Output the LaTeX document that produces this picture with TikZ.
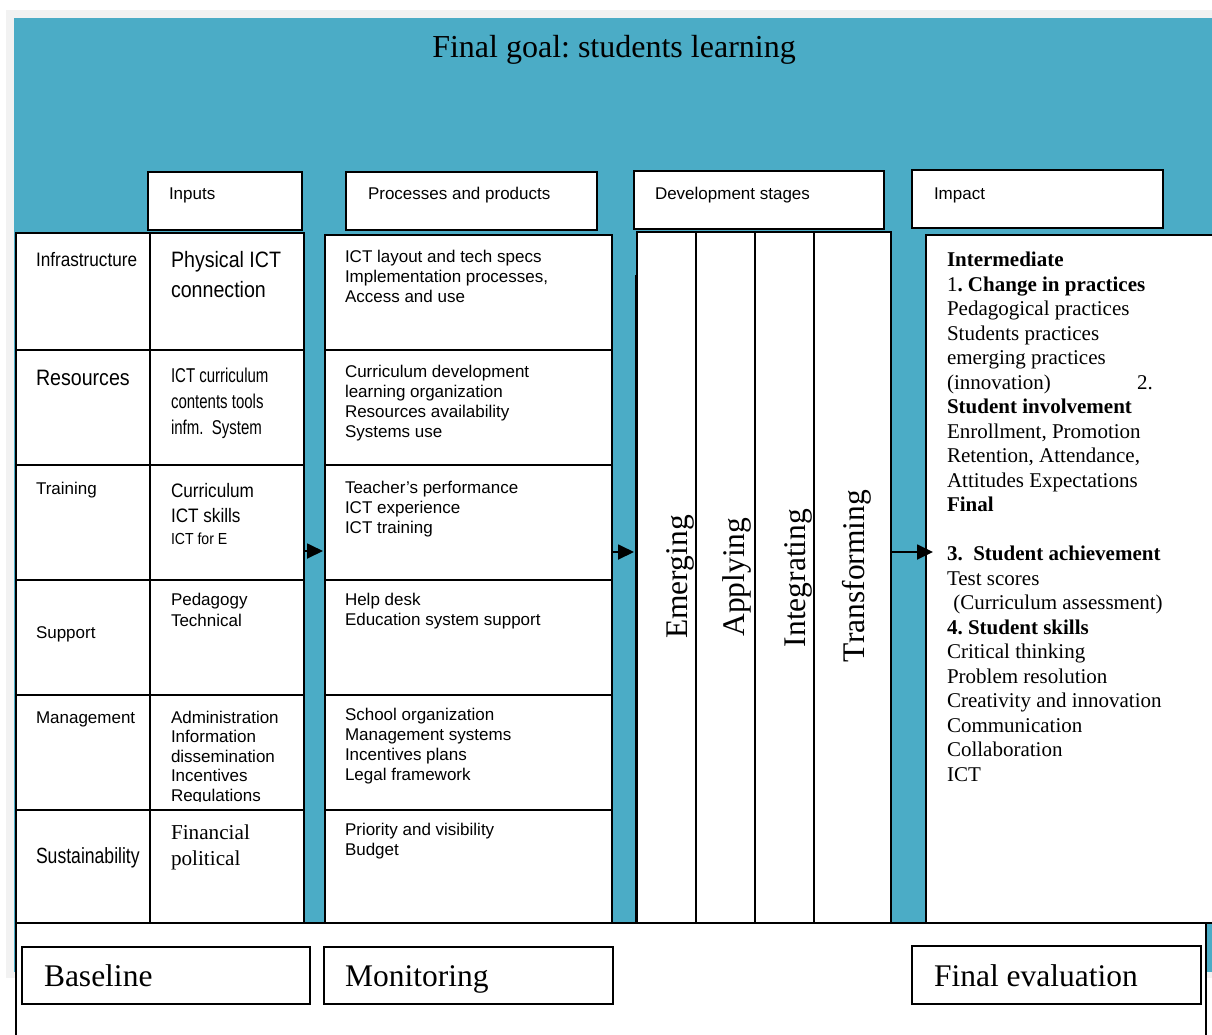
\documentclass[tikz,border=0pt]{standalone}
\usepackage{fontspec}
\setmainfont{Liberation Serif}
\newfontfamily\arial{Liberation Sans}
\newfontfamily\narrowA[FakeStretch=0.88]{Liberation Sans}
\newfontfamily\narrowB[FakeStretch=0.75]{Liberation Sans}
\newfontfamily\narrowC[FakeStretch=0.8]{Liberation Sans}
\usetikzlibrary{arrows.meta}
\definecolor{bgblue}{HTML}{4BACC6}
\definecolor{bggray}{HTML}{F2F2F2}
\newcommand{\mlines}[1]{\begin{tabular}[t]{@{}l@{}}#1\end{tabular}}
\newcommand{\fsz}[2]{\fontsize{#1}{#2}\selectfont}
\frenchspacing
\begin{document}
\begin{tikzpicture}[x=1pt,y=-1pt,
  frame/.style={draw=black,line width=1.6pt,fill=white,inner sep=0pt,outer sep=0pt,anchor=north west,rectangle},
  lbl/.style={inner sep=0pt,outer sep=0pt,anchor=base west},
  sans/.style={font=\arial\fsz{17}{20.2}},
  serifbig/.style={font=\fsz{31.5}{36}},
  arr/.style={line width=1.8pt,-{Triangle[length=16pt,width=15pt]}},
  stage/.style={inner sep=0pt,rotate=90,font=\fsz{31.5}{36}},
  divider/.style={line width=1.6pt},
  thin/.style={line width=1.3pt}]
\useasboundingbox (0,0) rectangle (1212,1034);
% background
\fill[bggray] (6,10) rectangle (1212,978);
\fill[bgblue] (14,18) rectangle (1212,972);
% title
\node[inner sep=0pt,anchor=base,font=\fsz{32}{38}] (title) at (614,57) {Final goal: students learning};
% header boxes
\node[frame,minimum width=154pt,minimum height=58pt] (hin) at (148,172) {};
\node[frame,minimum width=251pt,minimum height=58pt] (hproc) at (346,172) {};
\node[frame,minimum width=250pt,minimum height=58pt] (hdev) at (634,171) {};
\node[frame,minimum width=251pt,minimum height=58pt] (himp) at (912,170) {};
\node[lbl,sans] (tin) at (169,199) {Inputs};
\node[lbl,sans] (tproc) at (368,199) {Processes and products};
\node[lbl,sans] (tdev) at (655,199) {Development stages};
\node[lbl,sans] (timp) at (934,199) {Impact};
% columns
\node[frame,minimum width=134pt,minimum height=690pt] (catcol) at (16,233) {};
\node[frame,minimum width=154pt,minimum height=690pt] (inpcol) at (150,233) {};
\node[frame,minimum width=287pt,minimum height=688pt] (proccol) at (325,235) {};
\node[frame,minimum width=254pt,minimum height=691pt] (devcol) at (637,232) {};
\node[frame,minimum width=300pt,minimum height=688pt] (impcol) at (926,235) {};
% row dividers
\foreach \yy in {350,465,580,695,810} {
  \draw[divider] (16,\yy) -- (304,\yy);
  \draw[divider] (325,\yy) -- (612,\yy);
}
% development stage dividers
\draw[thin] (635.5,275) -- (635.5,923);
\foreach \xx in {696,755,814} \draw[thin] (\xx,232) -- (\xx,923);
\node[stage] (s1) at (680,577) {Emerging};
\node[stage] (s2) at (737,577) {Applying};
\node[stage] (s3) at (798,578) {Integrating};
\node[stage] (s4) at (857,576) {Transforming};
% category texts
\node[lbl,font=\narrowA\fsz{19.5}{24}] (c1) at (36,266) {Infrastructure};
\node[lbl,font=\narrowA\fsz{22.3}{27}] (c2) at (36,385) {Resources};
\node[lbl,sans] (c3) at (36,494) {Training};
\node[lbl,sans] (c4) at (36,638) {Support};
\node[lbl,sans] (c5) at (36,723) {Management};
\node[lbl,font=\narrowC\fsz{22}{27}] (c6) at (36,863) {Sustainability};
% input texts
\node[lbl,font=\narrowA\fsz{22.3}{30}] (i1) at (171,267) {\mlines{Physical ICT\\connection}};
\node[lbl,font=\narrowB\fsz{20}{26}] (i2) at (171,382) {\mlines{ICT curriculum\\contents tools\\infm.\ \ System}};
\node[lbl,font=\narrowA\fsz{19.5}{25}] (i3) at (171,497) {\mlines{Curriculum\\ICT skills}};
\node[lbl,font=\narrowA\fsz{16}{20}] (i3b) at (171,544) {ICT for E};
\node[lbl,font=\arial\fsz{17}{21}] (i4) at (171,605) {\mlines{Pedagogy\\Technical}};
\begin{scope}
\clip (150,695) rectangle (304,801.5);
\node[lbl,font=\arial\fsz{17}{19.6}] (i5) at (171,723) {\mlines{Administration\\Information\\dissemination\\Incentives\\Regulations}};
\end{scope}
\node[lbl,font=\fsz{21.2}{26}] (i6) at (171,839) {\mlines{Financial\\political}};
% process texts
\node[lbl,sans] (p1) at (345,262) {\mlines{ICT layout and tech specs\\Implementation processes,\\Access and use}};
\node[lbl,sans] (p2) at (345,377) {\mlines{Curriculum development\\learning organization\\Resources availability\\Systems use}};
\node[lbl,sans] (p3) at (345,493) {\mlines{Teacher’s performance\\ICT experience\\ICT training}};
\node[lbl,sans] (p4) at (345,605) {\mlines{Help desk\\Education system support}};
\node[lbl,sans] (p5) at (345,720) {\mlines{School organization\\Management systems\\Incentives plans\\Legal framework}};
\node[lbl,sans] (p6) at (345,835.5) {\mlines{Priority and visibility\\Budget}};
% impact text
\node[lbl,font=\fsz{21}{24.5}] (imptext) at (947,266.5) {\mlines{\textbf{Intermediate}\\
1\textbf{. Change in practices}\\
Pedagogical practices\\
Students practices\\
emerging practices\\
\makebox[190pt][l]{(innovation)}2.\\
\textbf{Student involvement}\\
Enrollment, Promotion\\
Retention, Attendance,\\
Attitudes Expectations\\
\textbf{Final}\\
\mbox{}\\
\textbf{3.\ \ Student achievement}\\
Test scores\\
\hspace{0.3em}(Curriculum assessment)\\
\textbf{4. Student skills}\\
Critical thinking\\
Problem resolution\\
Creativity and innovation\\
Communication\\
Collaboration\\
ICT}};
% arrows
\coordinate (ya) at (0,551);
\coordinate (yb) at (0,552);
\draw[arr] (inpcol.east |- ya) -- ([xshift=-2pt]proccol.west |- ya);
\draw[arr] (proccol.east |- yb) -- ([xshift=-3pt]devcol.west |- yb);
\draw[arr] (devcol.east |- yb) -- ([xshift=7pt]impcol.west |- yb);
% bottom evaluation band
\node[frame,line width=1.4pt,minimum width=1190pt,minimum height=130pt] (bottom) at (16,923) {};
\node[frame,line width=1.4pt,minimum width=288pt,minimum height=57pt] (bbase) at (22,947) {};
\node[frame,line width=1.4pt,minimum width=289pt,minimum height=57pt] (bmon) at (324,947) {};
\node[frame,line width=1.4pt,minimum width=289pt,minimum height=58pt] (bfin) at (912,946) {};
\node[lbl,serifbig] (tbase) at (44,986) {Baseline};
\node[lbl,serifbig] (tmon) at (345,986) {Monitoring};
\node[lbl,serifbig] (tfin) at (934,986) {Final evaluation};
\end{tikzpicture}
\end{document}
